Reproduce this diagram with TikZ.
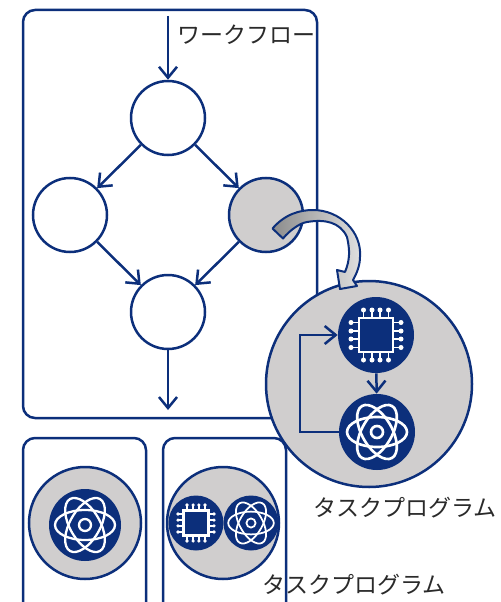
\documentclass[tikz,border=0pt]{standalone}
\usepackage{fontspec}
\newfontfamily\cjk{Noto Sans CJK JP}
\usetikzlibrary{arrows.meta}
\definecolor{navy}{HTML}{0C2F7B}
\definecolor{disc}{HTML}{D0CECE}
\definecolor{inktext}{HTML}{2A2A2A}

\begin{document}
\begin{tikzpicture}[
        flow/.style={draw=navy, line width=0.05cm, -{Straight Barb[length=0.22cm, width=0.36cm]}},
        frame/.style={draw=navy, line width=0.05cm, rounded corners=0.24cm},
        task/.style={circle, draw=navy, line width=0.05cm, fill=white, minimum size=1.48cm, inner sep=0pt},
        group/.style={circle, draw=navy, line width=0.05cm, fill=disc, inner sep=0pt},
        icondisc/.style={circle, fill=navy, inner sep=0pt},
        label/.style={font=\cjk\fontsize{13.1pt}{15pt}\selectfont, text=inktext, inner sep=0pt, anchor=west},
        chipicon/.pic={
            \draw[white, line width=1.5pt] (-0.34,-0.34) rectangle (0.34,0.34);
            \foreach \p in {-0.25,-0.08,0.08,0.25} {
                \draw[white] (\p,0.36) -- (\p,0.50);
                \draw[white] (\p,-0.36) -- (\p,-0.50);
                \draw[white] (0.36,\p) -- (0.50,\p);
                \draw[white] (-0.36,\p) -- (-0.50,\p);
                \fill[white] (\p,0.50) circle (0.05);
                \fill[white] (\p,-0.50) circle (0.05);
                \fill[white] (0.50,\p) circle (0.05);
                \fill[white] (-0.50,\p) circle (0.05);
            }
        },
        atomicon/.pic={
            \foreach \a in {0,60,120}
                \draw[white, rotate=\a] (0,0) ellipse (0.60 and 0.30);
            \draw[white] (0,0) circle (0.12);
        },
    ]
    \useasboundingbox (0,0) rectangle (10.02,-12.04);

    % Workflow frame and its nodes
    \draw[frame] (0.46,-0.20) rectangle (6.34,-8.36);
    \node[task] (top) at (3.36,-2.36) {};
    \node[task] (left) at (1.40,-4.30) {};
    \node[task, fill=disc] (right) at (5.32,-4.30) {};
    \node[task] (bottom) at (3.36,-6.24) {};
    \coordinate (entry) at (3.36,-0.32);
    \coordinate (exit) at (3.36,-8.20);
    \node[label] (flowname) at (3.54,-0.70) {ワークフロー};

    \draw[flow] (entry) -- (top);
    \draw[flow] (top) -- (left);
    \draw[flow] (top) -- (right);
    \draw[flow] (left) -- (bottom);
    \draw[flow] (right) -- (bottom);
    \draw[flow] (bottom) -- (exit);

    % Lower frames, cut by the page edge
    \draw[frame] (0.46,-12.20) -- (0.46,-8.76) -- (2.92,-8.76) -- (2.92,-12.20);
    \draw[frame] (3.26,-12.20) -- (3.26,-8.76) -- (5.72,-8.76) -- (5.72,-12.20);

    % Program with one icon
    \node[group, minimum size=2.24cm] (single) at (1.70,-10.46) {};
    \node[icondisc, minimum size=1.44cm] (singleatom) at (1.70,-10.50) {};
    \pic[line width=1.3pt] at (singleatom) {atomicon};

    % Program with two icons
    \node[group, minimum size=2.24cm] (pair) at (4.46,-10.46) {};
    \node[icondisc, minimum size=1.10cm] (pairchip) at (3.92,-10.46) {};
    \node[icondisc, minimum size=1.10cm] (pairatom) at (5.02,-10.46) {};
    \pic[scale=0.72, line width=1pt] at (pairchip) {chipicon};
    \pic[scale=0.76, line width=1pt] at (pairatom) {atomicon};

    % Enlarged program
    \node[group, minimum size=4.12cm] (big) at (7.38,-7.68) {};
    \node[icondisc, minimum size=1.52cm] (chip) at (7.52,-6.70) {};
    \node[icondisc, minimum size=1.52cm] (atom) at (7.54,-8.64) {};
    \pic[line width=1.1pt] at (chip) {chipicon};
    \pic[line width=1.5pt] at (atom) {atomicon};
    \coordinate (back) at (6.00,-8.64);
    \draw[flow] (chip) -- (atom);
    \draw[flow] (atom.west) -- (back) |- (chip.west);

    % Curved block arrow from the gray node to the enlarged program
    \draw[draw=navy, line width=0.04cm, left color=black!45, right color=black!12, line join=round]
        (5.45,-4.57) .. controls (5.70,-4.28) and (6.00,-4.20) .. (6.26,-4.20)
        .. controls (6.80,-4.20) and (7.24,-4.64) .. (7.20,-5.14)
        .. controls (7.20,-5.30) and (7.14,-5.46) .. (7.06,-5.60)
        -- (7.14,-5.72) -- (6.80,-5.78) -- (6.74,-5.40) -- (6.90,-5.44)
        .. controls (7.00,-5.20) and (7.00,-5.00) .. (6.94,-4.74)
        .. controls (6.80,-4.44) and (6.50,-4.38) .. (6.14,-4.44)
        .. controls (6.00,-4.46) and (5.80,-4.60) .. (5.66,-4.77)
        -- cycle;

    \node[label] (bigname) at (6.26,-10.16) {タスクプログラム};
    \node[label] (pairname) at (5.24,-11.70) {タスクプログラム};
\end{tikzpicture}
\end{document}
